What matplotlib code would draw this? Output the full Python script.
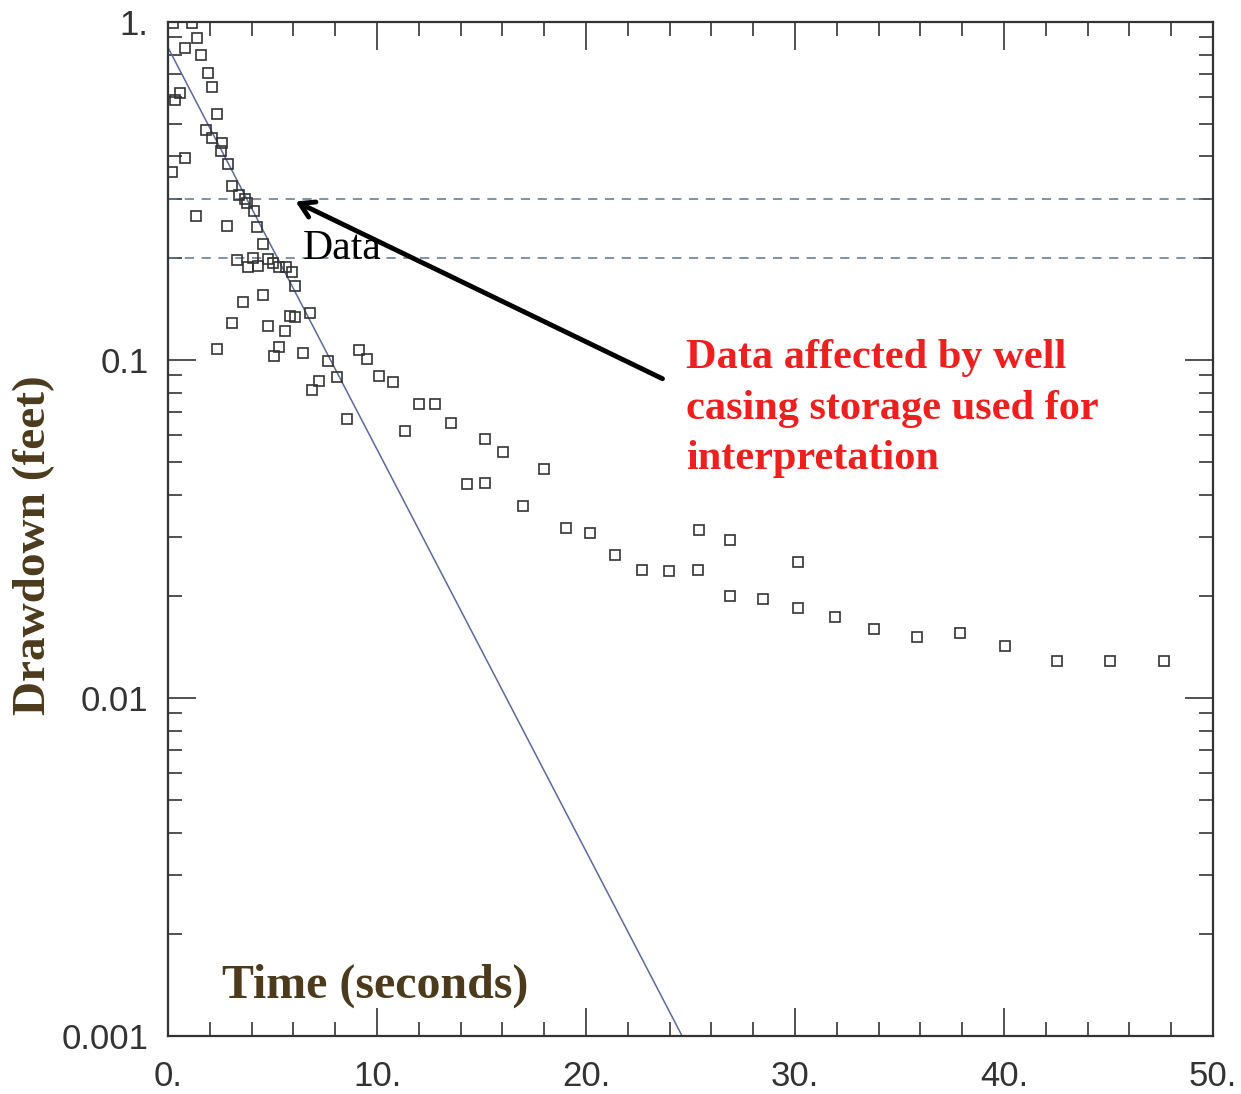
import matplotlib
matplotlib.use("Agg")
import matplotlib.pyplot as plt
from matplotlib.ticker import FixedLocator, FixedFormatter, LogLocator, NullFormatter, MultipleLocator

# measured drawdown data (time in s, drawdown in ft)
t = [0.24, 1.13, 1.37, 0.81, 1.56, 1.93, 2.09, 0.57, 0.33, 2.33,
     1.82, 2.09, 2.57, 2.54, 0.81, 2.86, 0.18, 3.05, 3.41, 3.68,
     3.79, 4.11, 1.34, 2.81, 4.27, 4.56, 3.32, 4.08, 3.84, 4.32,
     4.80, 5.04, 5.33, 5.65, 5.92, 6.08, 4.56, 3.60, 5.84, 6.08,
     6.79, 3.05, 4.80, 5.60, 2.33, 5.33, 5.09, 6.44, 7.67, 8.07,
     7.24, 6.87, 8.55, 9.16, 9.51, 10.1, 10.78, 11.34, 12.03, 12.78,
     13.52, 15.17, 16.04, 14.29, 15.17, 17.99, 17.0, 19.04, 20.19, 21.40,
     22.66, 23.97, 25.36, 25.43, 26.9, 26.9, 28.45, 30.16, 30.16, 31.93,
     33.78, 35.84, 37.9, 40.07, 42.55, 45.06, 47.68]
dd = [0.99, 0.995, 0.895, 0.836, 0.80, 0.705, 0.644, 0.615, 0.588, 0.533,
      0.479, 0.453, 0.438, 0.415, 0.395, 0.379, 0.361, 0.328, 0.308, 0.300,
      0.292, 0.276, 0.267, 0.249, 0.248, 0.220, 0.198, 0.201, 0.188, 0.190,
      0.199, 0.193, 0.188, 0.188, 0.182, 0.166, 0.156, 0.148, 0.135, 0.134,
      0.138, 0.129, 0.126, 0.122, 0.108, 0.109, 0.103, 0.105, 0.0995, 0.0893,
      0.0869, 0.0815, 0.0668, 0.107, 0.101, 0.0897, 0.0863, 0.0618, 0.0739, 0.0739,
      0.065, 0.0584, 0.0535, 0.043, 0.0432, 0.0476, 0.0371, 0.0318, 0.0307, 0.0265,
      0.0239, 0.0237, 0.0239, 0.0314, 0.0293, 0.0200, 0.0196, 0.0253, 0.0185, 0.0174,
      0.0160, 0.0152, 0.0156, 0.0143, 0.0129, 0.0129, 0.0129]

# fitted straight line (exponential decay on log axis)
fit_t = [0.0, 24.6]
fit_dd = [0.84, 0.001]

# dashed reference levels
levels = [0.3, 0.2]

xticks = [0, 10, 20, 30, 40, 50]
xticklabels = ["0.", "10.", "20.", "30.", "40.", "50."]
yticks = [0.001, 0.01, 0.1, 1.0]
yticklabels = ["0.001", "0.01", "0.1", "1."]

brown = "#4b3a1c"
red = "#ee1f1f"
serif = ["Liberation Serif", "DejaVu Serif"]

fig = plt.figure(figsize=(12.41, 10.94), dpi=100)
ax = fig.add_axes([0.1354, 0.053, 0.8420, 0.9269])

ax.plot(fit_t, fit_dd, color="#5a6a9c", lw=1.1)
for lv in levels:
    ax.axhline(lv, color="#5d7490", lw=1.1, ls=(0, (6, 5)))
ax.plot(t, dd, ls="none", marker="s", ms=7.5, mfc="none", mec="#333333", mew=1.2)

ax.set_yscale("log")
ax.set_xlim(0, 50)
ax.set_ylim(0.001, 1.0)

ax.xaxis.set_major_locator(FixedLocator(xticks))
ax.xaxis.set_major_formatter(FixedFormatter(xticklabels))
ax.xaxis.set_minor_locator(MultipleLocator(2))
ax.yaxis.set_major_locator(FixedLocator(yticks))
ax.yaxis.set_major_formatter(FixedFormatter(yticklabels))
ax.yaxis.set_minor_locator(LogLocator(base=10, subs=range(2, 10)))
ax.yaxis.set_minor_formatter(NullFormatter())

ax.tick_params(which="both", direction="in", top=True, right=True, color="#333333", width=1.2)
ax.tick_params(which="major", length=20, labelsize=25, labelcolor="#333333")
ax.tick_params(which="minor", length=10)
ax.tick_params(axis="y", pad=14)
ax.tick_params(axis="x", pad=17)
for lab in ax.get_xticklabels() + ax.get_yticklabels():
    lab.set_family("Liberation Sans")
for sp in ax.spines.values():
    sp.set_color("#333333")
    sp.set_linewidth(1.6)

ax.text(6.46, 0.214, "Data", fontsize=30, family=serif, color="black", ha="left", va="center")
ax.annotate("", xy=(5.98, 0.297), xytext=(23.78, 0.0873),
            arrowprops=dict(arrowstyle="->,head_length=1.0,head_width=0.6", lw=3.5, color="black"))
ax.text(24.78, 0.115, "Data affected by well\ncasing storage used for\ninterpretation",
        fontsize=30.5, family=serif, weight="bold", color=red, ha="left", va="top", linespacing=1.42)

ax.text(0.198, 0.05, "Time (seconds)", transform=ax.transAxes, fontsize=34.5, family=serif,
        weight="bold", color=brown, ha="center", va="center")
fig.text(0.027, 0.502, "Drawdown (feet)", rotation=90, fontsize=34, family=serif,
         weight="bold", color=brown, ha="center", va="center")

fig.savefig("out.png", dpi=100)
